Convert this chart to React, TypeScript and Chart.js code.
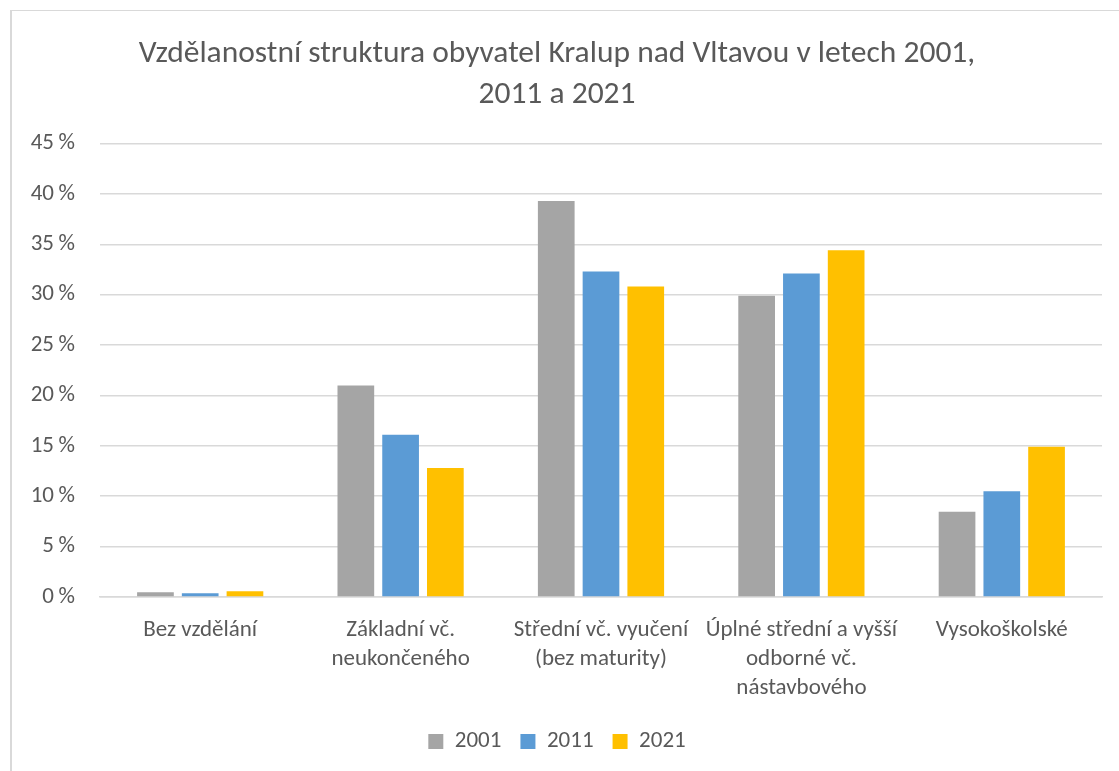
import React, { useEffect, useRef } from "react";
import { Chart, registerables } from "chart.js";

Chart.register(...registerables);

const categories: (string | string[])[] = [
  "Bez vzdělání",
  ["Základní vč.", "neukončeného"],
  ["Střední vč. vyučení", "(bez maturity)"],
  ["Úplné střední a vyšší", "odborné vč.", "nástavbového"],
  "Vysokoškolské",
];

const years = ["2001", "2011", "2021"];
const values2001 = [0.47, 21.0, 39.3, 29.9, 8.45];
const values2011 = [0.37, 16.1, 32.3, 32.1, 10.5];
const values2021 = [0.56, 12.8, 30.8, 34.4, 14.9];
const seriesColors = ["#a5a5a5", "#5b9bd5", "#ffc000"];
const yTicks = [0, 5, 10, 15, 20, 25, 30, 35, 40, 45];

const titleLines = [
  "Vzdělanostní struktura obyvatel Kralup nad Vltavou v letech 2001,",
  "2011 a 2021",
];

const FONT = "Carlito, Lato, 'Open Sans', sans-serif";
const TEXT = "#595959";

export default function App() {
  const ref = useRef<HTMLCanvasElement | null>(null);

  useEffect(() => {
    if (!ref.current) return;
    const series = [values2001, values2011, values2021];
    const chart = new Chart(ref.current, {
      type: "bar",
      data: {
        labels: categories,
        datasets: years.map((y, i) => ({
          label: y,
          data: series[i],
          backgroundColor: seriesColors[i],
          borderWidth: 0,
          categoryPercentage: 0.67,
          barPercentage: 0.82,
        })),
      },
      options: {
        animation: false,
        responsive: false,
        maintainAspectRatio: false,
        layout: { padding: { left: 0, right: 17, top: 0, bottom: 7 } },
        plugins: {
          title: {
            display: true,
            text: titleLines,
            color: TEXT,
            font: { family: FONT, size: 31.5, weight: 300, lineHeight: 1.31 },
            padding: { top: 22, bottom: 28 },
          },
          legend: {
            position: "bottom",
            labels: {
              color: TEXT,
              font: { family: FONT, size: 23 },
              boxWidth: 15,
              boxHeight: 15,
              padding: 19,
            },
          },
          tooltip: { enabled: false },
        },
        scales: {
          x: {
            afterFit: (scale: any) => {
              scale.height = 114;
            },
            grid: { display: false, drawTicks: false },
            border: { display: true, color: "#d9d9d9", width: 1.5 },
            ticks: {
              color: TEXT,
              font: { family: FONT, size: 23, lineHeight: 1.26 },
              padding: 19,
              maxRotation: 0,
              autoSkip: false,
            },
          },
          y: {
            min: 0,
            max: 45,
            afterBuildTicks: (scale: any) => {
              scale.ticks = yTicks.map((v) => ({ value: v }));
            },
            afterFit: (scale: any) => {
              scale.width = 88;
            },
            grid: { color: "#d9d9d9", lineWidth: 1.5, drawTicks: false },
            border: { display: false },
            ticks: {
              color: TEXT,
              font: { family: FONT, size: 23 },
              padding: 25,
              callback: (v: any) => `${v}\u2009%`,
            },
          },
        },
      },
    });
    return () => chart.destroy();
  }, []);

  return (
    <div
      style={{
        position: "absolute",
        left: 10,
        top: 10,
        width: 1109,
        height: 761,
        borderLeft: "2px solid #d9d9d9",
        borderTop: "1.5px solid #d9d9d9",
        boxSizing: "border-box",
        background: "#fff",
      }}
    >
      <canvas ref={ref} width={1107} height={759} style={{ display: "block" }} />
    </div>
  );
}
